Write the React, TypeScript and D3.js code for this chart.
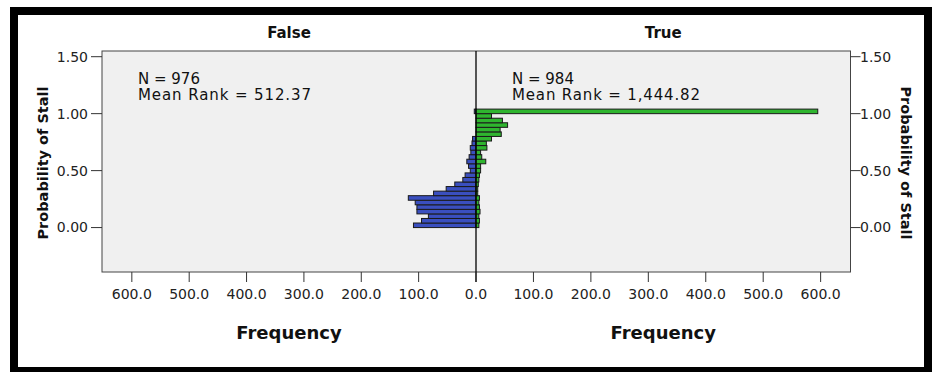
import React from "react";
import * as d3 from "d3";

const binLower = [0.0, 0.04, 0.08, 0.12, 0.16, 0.2, 0.24, 0.28, 0.32, 0.36, 0.4, 0.44, 0.48, 0.52, 0.56, 0.6, 0.64, 0.68, 0.72, 0.76, 0.8, 0.84, 0.88, 0.92, 0.96, 1.0];
const binWidth = 0.04;
const falseCounts = [109, 95, 83, 103, 103, 106, 118, 74, 52, 37, 23, 19, 10, 13, 16, 12, 9, 10, 7, 6, 0, 0, 0, 0, 0, 3];
const trueCounts = [5, 6, 5, 7, 6, 5, 6, 3, 3, 4, 5, 6, 8, 8, 17, 10, 8, 19, 18, 27, 44, 42, 55, 46, 27, 595];
const freqTicks = [0, 100, 200, 300, 400, 500, 600];
const probTicks = [0, 0.5, 1.0, 1.5];
const panelTitles = ["False", "True"];
const statsFalse = ["N = 976", "Mean Rank = 512.37"];
const statsTrue = ["N = 984", "Mean Rank = 1,444.82"];

const W = 937, H = 372;
const plotL = 102, plotR = 850.5, plotT = 51, plotB = 272, center = 476;
const FONT = "'DejaVu Sans', Verdana, sans-serif";

export default function App() {
  const y = d3.scaleLinear().domain([-0.39, 1.55]).range([plotB, plotT]);
  const xL = d3.scaleLinear().domain([0, 652]).range([center, plotL]);
  const xR = d3.scaleLinear().domain([0, 652]).range([center, plotR]);
  const fx = d3.format(".1f");
  const fy = d3.format(".2f");
  const textCol = "#222";

  return (
    <svg width={W} height={H} style={{ position: "absolute", left: 0, top: 0, background: "#fff" }}>
      <rect x={14} y={11} width={914} height={360} fill="#fff" stroke="#000" strokeWidth={8} />
      <rect x={plotL} y={plotT} width={plotR - plotL} height={plotB - plotT} fill="#f0f0f0" stroke="#444" strokeWidth={1} />

      {/* bars False (left) */}
      {binLower.map((b, i) =>
        falseCounts[i] > 0 ? (
          <rect key={"f" + i} x={xL(falseCounts[i])} y={y(b + binWidth)} width={xL(0) - xL(falseCounts[i])}
            height={y(b) - y(b + binWidth)} fill="#3a4fbf" stroke="#1a1a1a" strokeWidth={1} />
        ) : null
      )}
      {binLower.map((b, i) =>
        trueCounts[i] > 0 ? (
          <rect key={"t" + i} x={xR(0)} y={y(b + binWidth)} width={xR(trueCounts[i]) - xR(0)}
            height={y(b) - y(b + binWidth)} fill="#2fb52f" stroke="#1a1a1a" strokeWidth={1} />
        ) : null
      )}

      <line x1={center} x2={center} y1={plotT} y2={plotB + 10} stroke="#000" strokeWidth={1.3} />

      {/* x ticks */}
      {freqTicks.map((t) => (
        <g key={"xl" + t}>
          <line x1={xL(t)} x2={xL(t)} y1={plotB} y2={plotB + 10} stroke="#333" />
          <text x={xL(t)} y={299} textAnchor="middle" fontFamily={FONT} fontSize={14} fill={textCol}>{fx(t)}</text>
        </g>
      ))}
      {freqTicks.filter((t) => t > 0).map((t) => (
        <g key={"xr" + t}>
          <line x1={xR(t)} x2={xR(t)} y1={plotB} y2={plotB + 10} stroke="#333" />
          <text x={xR(t)} y={299} textAnchor="middle" fontFamily={FONT} fontSize={14} fill={textCol}>{fx(t)}</text>
        </g>
      ))}

      {/* y ticks */}
      {probTicks.map((t) => (
        <g key={"y" + t}>
          <line x1={plotL - 11} x2={plotL} y1={y(t)} y2={y(t)} stroke="#333" />
          <text x={88} y={y(t)} dy="0.35em" textAnchor="end" fontFamily={FONT} fontSize={14} fill={textCol}>{fy(t)}</text>
          <line x1={plotR} x2={plotR + 10} y1={y(t)} y2={y(t)} stroke="#333" />
          <text x={860} y={y(t)} dy="0.35em" textAnchor="start" fontFamily={FONT} fontSize={14} fill={textCol}>{fy(t)}</text>
        </g>
      ))}

      {/* titles */}
      <text x={(plotL + center) / 2} y={37.5} textAnchor="middle" fontFamily={FONT} fontSize={15} fontWeight="bold" fill="#111">{panelTitles[0]}</text>
      <text x={(center + plotR) / 2} y={37.5} textAnchor="middle" fontFamily={FONT} fontSize={15} fontWeight="bold" fill="#111">{panelTitles[1]}</text>

      <text x={(plotL + center) / 2} y={339} textAnchor="middle" fontFamily={FONT} fontSize={18} fontWeight="bold" fill="#111">Frequency</text>
      <text x={(center + plotR) / 2} y={339} textAnchor="middle" fontFamily={FONT} fontSize={18} fontWeight="bold" fill="#111">Frequency</text>

      <text transform={`translate(48,163) rotate(-90)`} textAnchor="middle" fontFamily={FONT} fontSize={14.5} fontWeight="bold" fill="#111">Probability of Stall</text>
      <text transform={`translate(901,163) rotate(90)`} textAnchor="middle" fontFamily={FONT} fontSize={14.5} fontWeight="bold" fill="#111">Probability of Stall</text>

      {/* stats */}
      <text x={138} y={83.5} fontFamily={FONT} fontSize={15} fill="#111">{statsFalse[0]}</text>
      <text x={138} y={100} fontFamily={FONT} fontSize={15} fill="#111" textLength={173} lengthAdjust="spacing">{statsFalse[1]}</text>
      <text x={512} y={83.5} fontFamily={FONT} fontSize={15} fill="#111">{statsTrue[0]}</text>
      <text x={512} y={100} fontFamily={FONT} fontSize={15} fill="#111" textLength={188} lengthAdjust="spacing">{statsTrue[1]}</text>
    </svg>
  );
}
